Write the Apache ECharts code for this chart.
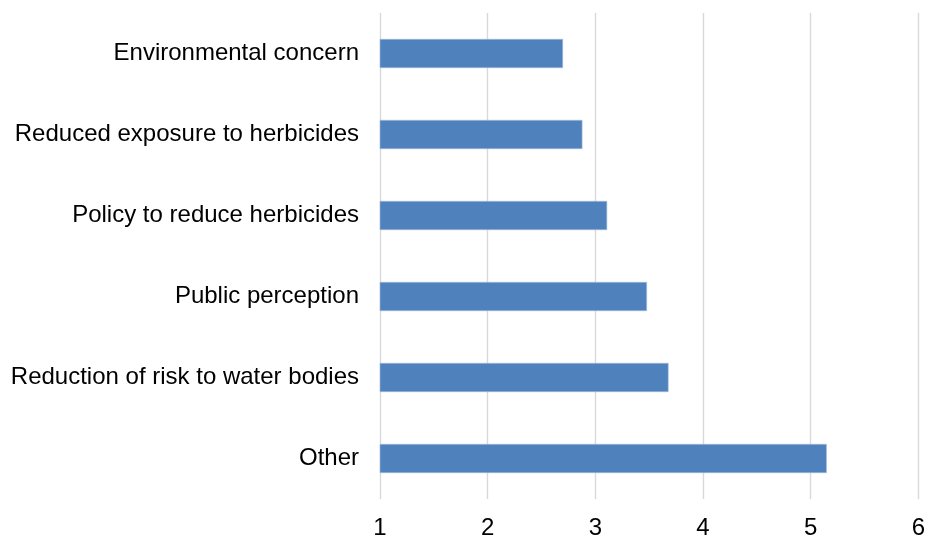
<!DOCTYPE html>
<html>
<head>
<meta charset="utf-8">
<script src="https://cdn.jsdelivr.net/npm/echarts@6/dist/echarts.min.js"></script>
<style>
  html, body { margin: 0; padding: 0; background: #fff; }
  #chart { width: 928px; height: 540px; }
</style>
</head>
<body>
<div id="chart"></div>
<script>
// Motivations, listed top to bottom
const categories = [
  'Environmental concern',
  'Reduced exposure to herbicides',
  'Policy to reduce herbicides',
  'Public perception',
  'Reduction of risk to water bodies',
  'Other'
];
const values = [2.70, 2.88, 3.11, 3.48, 3.68, 5.15];
const xTicks = [1, 2, 3, 4, 5, 6];

const chart = echarts.init(document.getElementById('chart'), null, { renderer: 'canvas' });

chart.setOption({
  animation: false,
  grid: { left: 380, right: 9, top: 13, bottom: 39, containLabel: false },
  xAxis: {
    type: 'value',
    min: xTicks[0],
    max: xTicks[xTicks.length - 1],
    interval: 1,
    axisLine: { show: false },
    axisTick: { show: false },
    axisLabel: {
      margin: 17,
      color: '#000',
      fontFamily: 'Liberation Sans, Arial, sans-serif',
      fontSize: 24
    },
    splitLine: { show: true, lineStyle: { color: '#d9d9d9', width: 1.4 } }
  },
  yAxis: {
    type: 'category',
    inverse: true,
    data: categories,
    axisLine: { show: false },
    axisTick: { show: false },
    axisLabel: {
      margin: 21,
      color: '#000',
      fontFamily: 'Liberation Sans, Arial, sans-serif',
      fontSize: 24
    },
    splitLine: { show: false }
  },
  series: [{
    type: 'bar',
    data: values,
    barCategoryGap: '64%',
    itemStyle: { color: '#4f81bd', borderColor: '#a9c0de', borderWidth: 0.6 }
  }]
});
</script>
</body>
</html>
